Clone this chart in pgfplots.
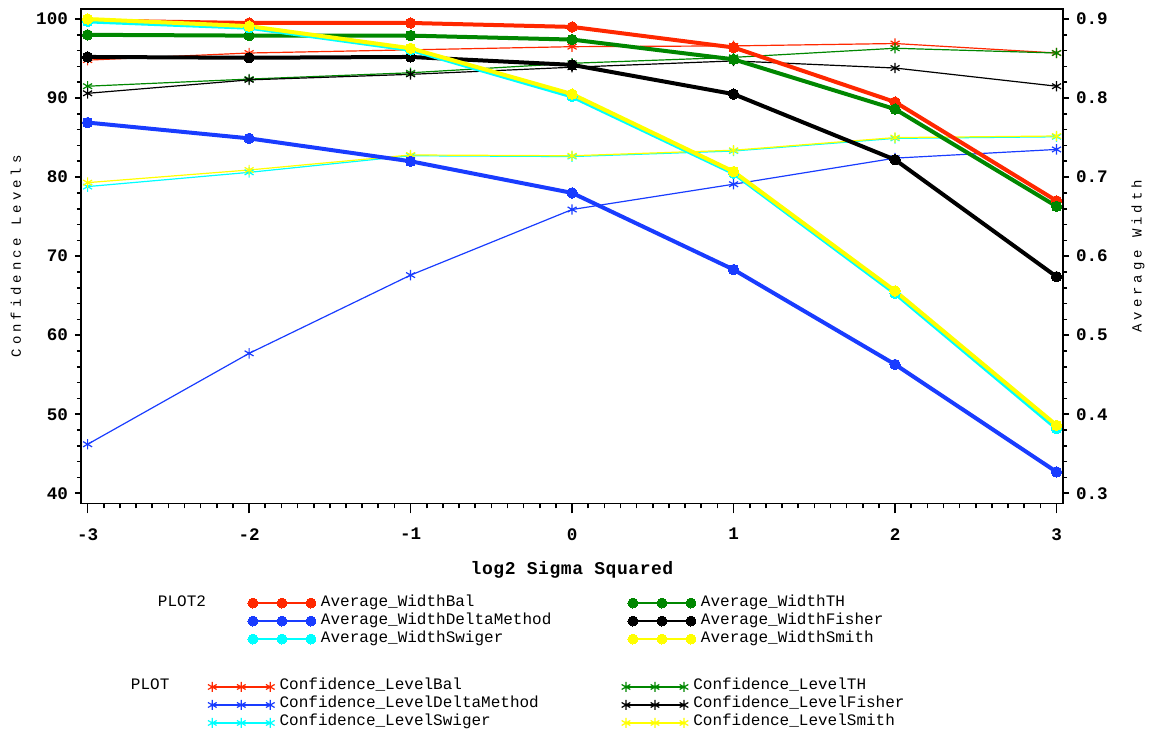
\documentclass[border=0pt]{standalone}
\usepackage{fontspec}
\setmainfont{Liberation Mono}
\newfontfamily\lblfont[LetterSpace=28]{Liberation Mono}
\newfontfamily\xlblfont[LetterSpace=3]{Liberation Mono}
\usepackage{pgfplots}
\pgfplotsset{compat=1.18}
\definecolor{sasred}{RGB}{255,40,0}
\definecolor{sasgreen}{RGB}{0,135,0}
\definecolor{sasblue}{RGB}{25,60,255}
\definecolor{sascyan}{RGB}{0,255,255}
\definecolor{sasyellow}{RGB}{255,255,0}
\pgfplotsset{
  base/.style={
    scale only axis, width=491pt, height=247pt,
    xmin=-3.041, xmax=3.04,
    tick align=outside,
    /pgf/number format/assume math mode=true,
    tick label style={font=\bfseries\fontsize{8.8}{10}\selectfont},
    axis line style={line width=0.8pt},
    every tick/.style={black, line width=0.8pt},
  },
  thickplot/.style={line width=2pt, mark=*, mark size=2.6pt, mark options={solid, line width=0pt}},
  thinplot/.style={line width=0.6pt, mark=asterisk, mark size=2.6pt, mark options={line width=0.6pt}},
  legbase/.style={
    legend columns=3,
    legend cell align=left,
    legend style={draw=none, fill=none, inner sep=0pt, outer sep=0pt,
      row sep=0pt, column sep=0pt,
      font=\fontsize{8}{9}\selectfont,
      nodes={inner sep=0pt, text height=6pt, text depth=3pt},
      /tikz/every odd column/.style={column sep=2.5pt}},
    legend image code/.code={\draw[##1, line width=0.8pt, mark repeat=1, mark size=2.5pt] plot coordinates {(0pt,0pt) (14.5pt,0pt) (29pt,0pt)};},
  },
}
\begin{document}
\begin{tikzpicture}
\useasboundingbox (-40.5pt,-112.85pt) rectangle (535pt,251.65pt);

% x axis (ticks and label)
\begin{axis}[base, ymin=0, ymax=1,
  axis y line=none, axis x line*=bottom,
  xtick={-3,-2,-1,0,1,2,3}, minor x tick num=9,
  major tick length=5pt, minor tick length=2.5pt,
  xticklabel style={yshift=-4pt},
  xlabel={log2 Sigma Squared},
  xlabel style={at={(axis description cs:0.5,-0.135)}, anchor=center,
    font=\xlblfont\bfseries\fontsize{9}{10}\selectfont},
]
\end{axis}

% left axis: confidence levels
\begin{axis}[base, legbase, ymin=38.73, ymax=101.23,
  xtick=\empty, ytick={40,50,60,70,80,90,100}, minor y tick num=4,
  tick pos=left, major tick length=3pt, minor tick length=2pt,
  ylabel={Confidence Levels},
  ylabel style={at={(axis description cs:-0.0662,0.5)}, anchor=center,
    font=\lblfont\fontsize{7}{8}\selectfont},
  legend style={at={(0.0458,-0.3536)}, anchor=north west},
]
\addplot[thinplot, color=sasred, forget plot] coordinates {(-3,94.8) (-2,95.7) (-1,96.1) (0,96.5) (1,96.6) (2,96.9) (3,95.7)};
\addplot[thinplot, color=sasgreen, forget plot] coordinates {(-3,91.5) (-2,92.4) (-1,93.2) (0,94.4) (1,95.15) (2,96.3) (3,95.7)};
\addplot[thinplot, color=sasblue, forget plot] coordinates {(-3,46.2) (-2,57.7) (-1,67.6) (0,75.9) (1,79.1) (2,82.4) (3,83.5)};
\addplot[thinplot, color=black, forget plot] coordinates {(-3,90.6) (-2,92.3) (-1,93.0) (0,93.9) (1,94.7) (2,93.8) (3,91.5)};
\addplot[thinplot, color=sascyan, forget plot] coordinates {(-3,78.8) (-2,80.6) (-1,82.7) (0,82.6) (1,83.3) (2,84.9) (3,85.1)};
\addplot[thinplot, color=sasyellow, forget plot] coordinates {(-3,79.3) (-2,80.9) (-1,82.8) (0,82.7) (1,83.4) (2,85.0) (3,85.2)};
\addlegendimage{empty legend}\addlegendentry{\makebox[38.5pt][l]{PLOT}}
\addlegendimage{thinplot, color=sasred}\addlegendentry{\makebox[171pt][l]{Confidence\_LevelBal}}
\addlegendimage{thinplot, color=sasgreen}\addlegendentry{Confidence\_LevelTH}
\addlegendimage{empty legend}\addlegendentry{}
\addlegendimage{thinplot, color=sasblue}\addlegendentry{\makebox[171pt][l]{Confidence\_LevelDeltaMethod}}
\addlegendimage{thinplot, color=black}\addlegendentry{Confidence\_LevelFisher}
\addlegendimage{empty legend}\addlegendentry{}
\addlegendimage{thinplot, color=sascyan}\addlegendentry{\makebox[171pt][l]{Confidence\_LevelSwiger}}
\addlegendimage{thinplot, color=sasyellow}\addlegendentry{Confidence\_LevelSmith}
\end{axis}

% right axis: average width
\begin{axis}[base, legbase, ymin=0.2873, ymax=0.9123,
  axis x line=none, axis y line*=right,
  ytick={0.3,0.4,0.5,0.6,0.7,0.8,0.9}, minor y tick num=4,
  major tick length=3pt, minor tick length=2pt,
  yticklabel style={/pgf/number format/.cd, fixed, fixed zerofill, precision=1},
  ylabel={Average Width},
  ylabel style={at={(axis description cs:1.0764,0.5)}, anchor=center, rotate=0,
    font=\lblfont\fontsize{7}{8}\selectfont},
  legend style={at={(0.0733,-0.1836)}, anchor=north west},
]
\addplot[thickplot, color=sasred, forget plot] coordinates {(-3,0.898) (-2,0.895) (-1,0.895) (0,0.890) (1,0.864) (2,0.795) (3,0.670)};
\addplot[thickplot, color=sasgreen, forget plot] coordinates {(-3,0.880) (-2,0.879) (-1,0.879) (0,0.874) (1,0.849) (2,0.786) (3,0.663)};
\addplot[thickplot, color=sasblue, forget plot] coordinates {(-3,0.769) (-2,0.749) (-1,0.720) (0,0.680) (1,0.583) (2,0.463) (3,0.327)};
\addplot[thickplot, color=black, forget plot] coordinates {(-3,0.852) (-2,0.851) (-1,0.852) (0,0.842) (1,0.805) (2,0.722) (3,0.574)};
\addplot[thickplot, color=sascyan, forget plot] coordinates {(-3,0.897) (-2,0.889) (-1,0.861) (0,0.802) (1,0.705) (2,0.553) (3,0.382)};
\addplot[thickplot, color=sasyellow, forget plot] coordinates {(-3,0.900) (-2,0.891) (-1,0.863) (0,0.805) (1,0.707) (2,0.556) (3,0.386)};
\addlegendimage{empty legend}\addlegendentry{\makebox[45pt][l]{PLOT2}}
\addlegendimage{thickplot, color=sasred}\addlegendentry{\makebox[153.5pt][l]{Average\_WidthBal}}
\addlegendimage{thickplot, color=sasgreen}\addlegendentry{Average\_WidthTH}
\addlegendimage{empty legend}\addlegendentry{}
\addlegendimage{thickplot, color=sasblue}\addlegendentry{\makebox[153.5pt][l]{Average\_WidthDeltaMethod}}
\addlegendimage{thickplot, color=black}\addlegendentry{Average\_WidthFisher}
\addlegendimage{empty legend}\addlegendentry{}
\addlegendimage{thickplot, color=sascyan}\addlegendentry{\makebox[153.5pt][l]{Average\_WidthSwiger}}
\addlegendimage{thickplot, color=sasyellow}\addlegendentry{Average\_WidthSmith}
\end{axis}
\end{tikzpicture}
\end{document}
